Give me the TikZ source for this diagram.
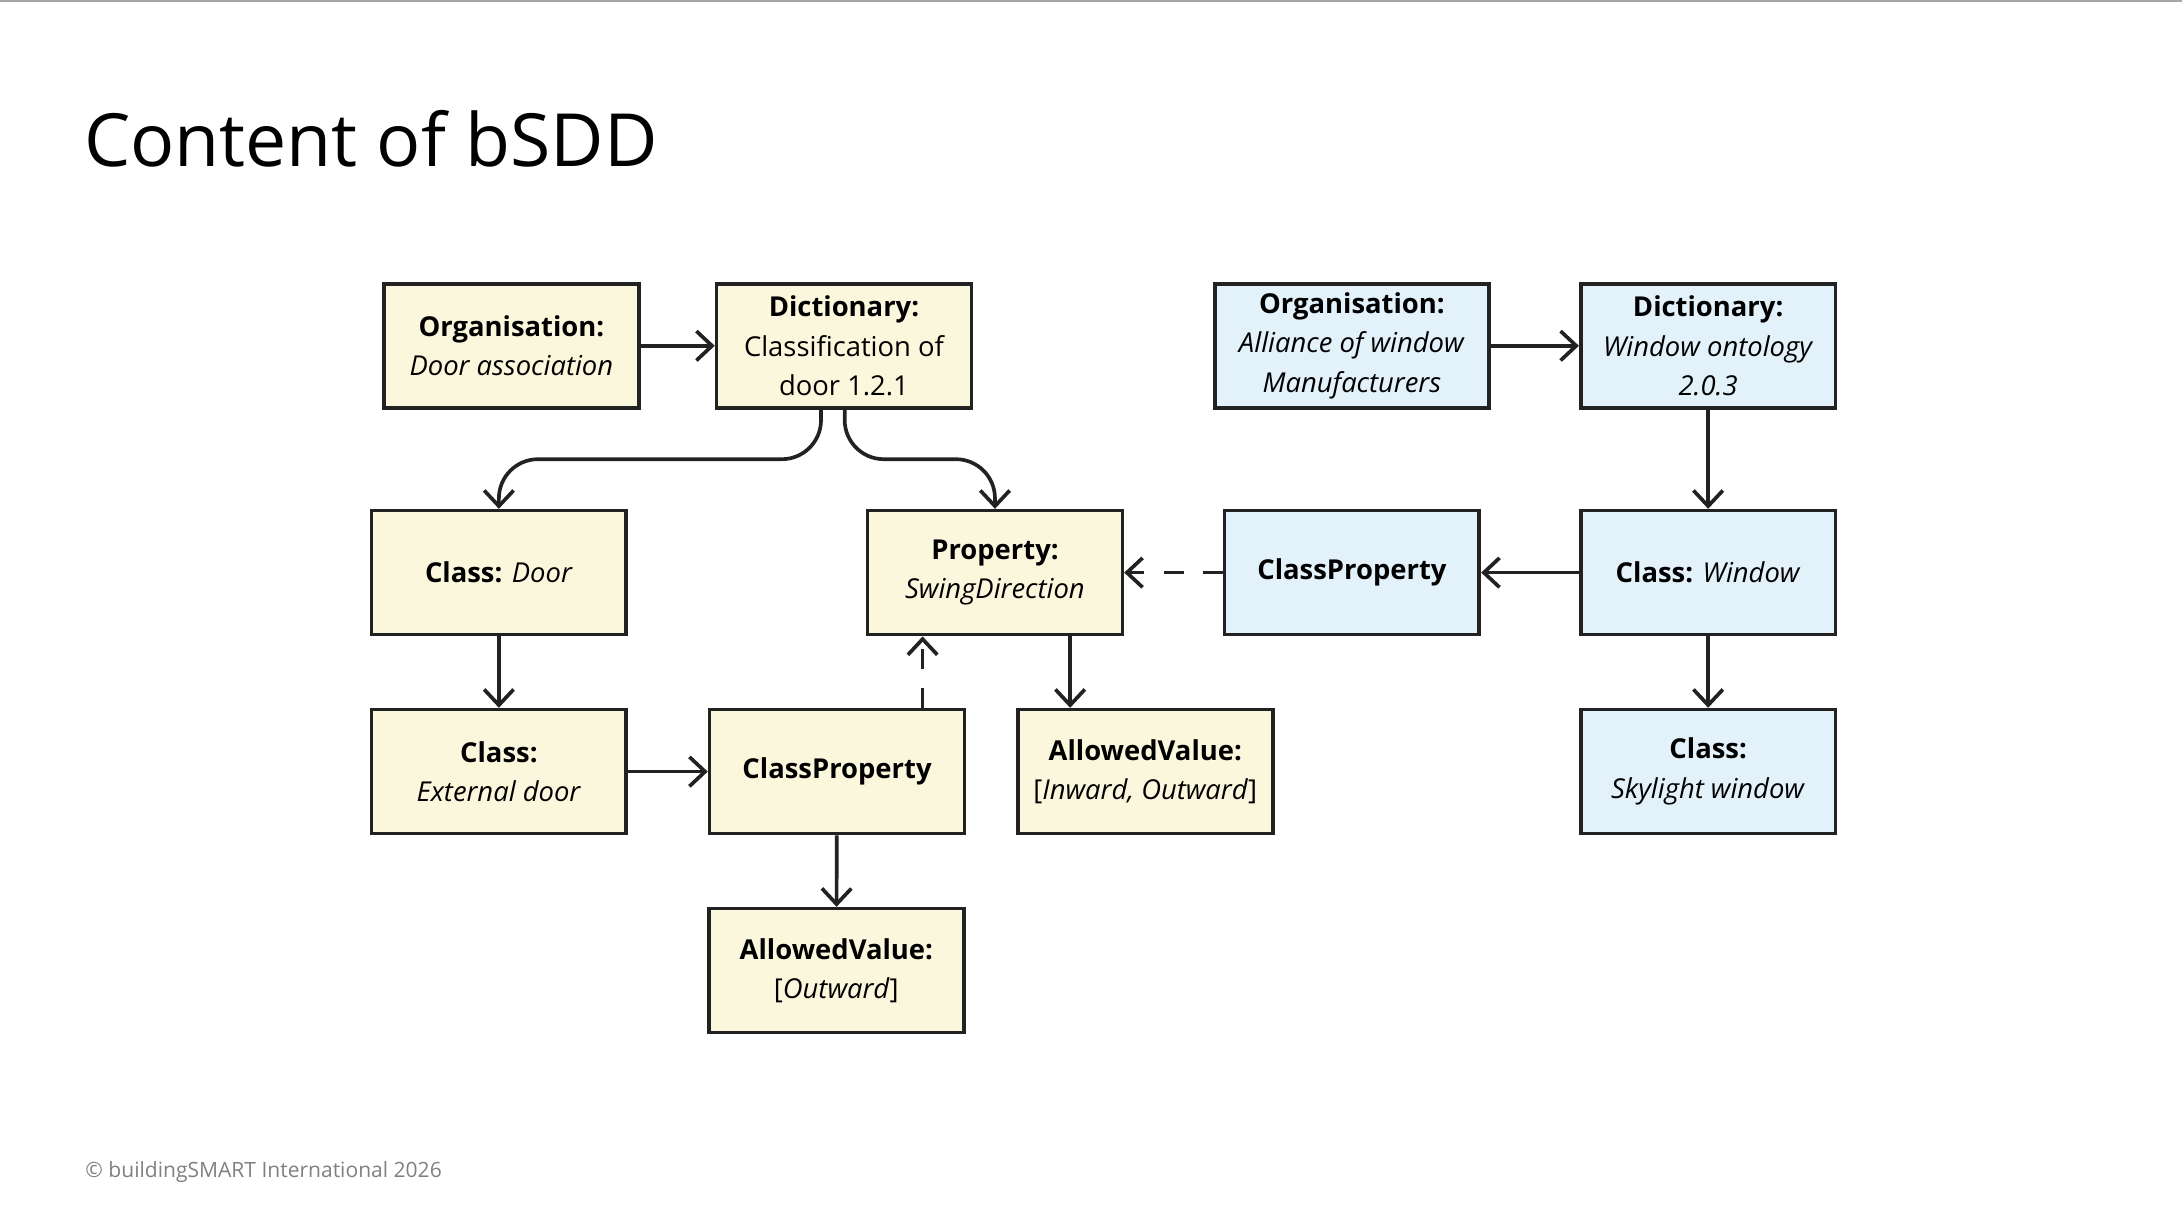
\documentclass[tikz,border=0pt]{standalone}
\usepackage{fontspec}
\setmainfont{Open Sans}
\usetikzlibrary{positioning,arrows.meta}
\definecolor{doorfill}{HTML}{FBF7DC}
\definecolor{winfill}{HTML}{E3F1FA}
\definecolor{edge}{HTML}{222222}
\tikzset{
  box/.style={draw=edge, line width=0.75pt, minimum width=1.83cm, minimum height=0.89cm,
    align=center, font=\fontsize{5.6}{8.1}\selectfont, inner sep=1pt},
  door/.style={box, fill=doorfill},
  win/.style={box, fill=winfill},
  link/.style={draw=edge, line width=0.75pt, -{Straight Barb[length=3.2pt,width=6pt]}},
  hint/.style={link, dashed, dash pattern=on 4pt off 4pt}
}
\begin{document}
\begin{tikzpicture}[x=0.01cm,y=-0.01cm]
    \useasboundingbox (0,0) rectangle (1568,881.8);
    \draw [gray!70, line width=0.6pt] (0,0.4) -- (1568,0.4);
    % title and footer
    \node [anchor=west, font=\fontsize{15}{18}\selectfont] (title) at (48,100) {Content of bSDD};
    \node [anchor=west, font=\fontsize{4.3}{5}\selectfont, text=gray] (foot) at (49,842) {© buildingSMART International 2026};
    % door dictionary
    \node [door] (orgdoor) at (367.5,248.5) {\textbf{Organisation:}\\\textit{Door association}};
    \node [door] (dictdoor) at (606.5,248.5) {\textbf{Dictionary:}\\Classification of\\door 1.2.1};
    \node [door] (classdoor) at (358.5,411.5) {\textbf{Class:} \textit{Door}};
    \node [door] (prop) at (715,411.5) {\textbf{Property:}\\\textit{SwingDirection}};
    \node [door] (extdoor) at (358.5,554.5) {\textbf{Class:}\\\textit{External door}};
    \node [door] (cpdoor) at (601.5,554.5) {\textbf{ClassProperty}};
    \node [door] (avboth) at (823,554.5) {\textbf{AllowedValue:}\\{[}\textit{Inward, Outward}{]}};
    \node [door] (avout) at (601,697.5) {\textbf{AllowedValue:}\\{[}\textit{Outward}{]}};
    % window dictionary
    \node [win, minimum width=1.97cm] (orgwin) at (971.5,248.5) {\textbf{Organisation:}\\\textit{Alliance of window}\\\textit{Manufacturers}};
    \node [win] (dictwin) at (1227.5,248.5) {\textbf{Dictionary:}\\\textit{Window ontology}\\\textit{2.0.3}};
    \node [win] (cpwin) at (971.5,411.5) {\textbf{ClassProperty}};
    \node [win] (classwin) at (1227.5,411.5) {\textbf{Class:} \textit{Window}};
    \node [win] (skylight) at (1227.5,554.5) {\textbf{Class:}\\\textit{Skylight window}};
    % connectors
    \draw [link] (orgdoor) -- (dictdoor);
    \draw [link, rounded corners=8pt] (dictdoor.south -| 590,0) |- (358.5,330) -- (classdoor);
    \draw [link, rounded corners=8pt] (dictdoor.south -| 607,0) |- (715,330) -- (prop);
    \draw [link] (classdoor) -- (extdoor);
    \draw [link] (extdoor) -- (cpdoor);
    \draw [link] (cpdoor) -- (avout);
    \draw [hint] (cpdoor.north -| 663,0) -- (prop.south -| 663,0);
    \draw [link] (prop.south -| 769,0) -- (avboth.north -| 769,0);
    \draw [link] (orgwin) -- (dictwin);
    \draw [link] (dictwin) -- (classwin);
    \draw [link] (classwin) -- (cpwin);
    \draw [hint] (cpwin) -- (prop);
    \draw [link] (classwin) -- (skylight);
\end{tikzpicture}
\end{document}
